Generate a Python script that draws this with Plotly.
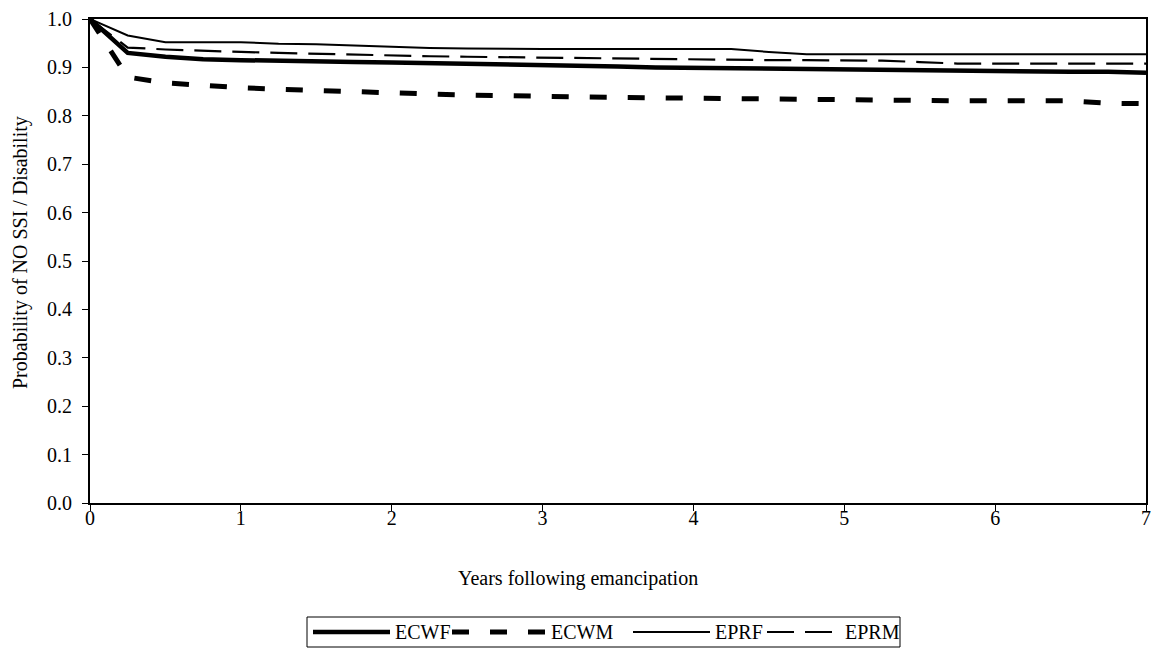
import plotly.graph_objects as go

years = [0, 0.25, 0.5, 0.75, 1, 1.25, 1.5, 1.75, 2, 2.25, 2.5, 2.75, 3, 3.25, 3.5,
         3.75, 4, 4.25, 4.5, 4.75, 5, 5.25, 5.5, 5.75, 6, 6.25, 6.5, 6.75, 7]

ecwf = [1.0, 0.930, 0.922, 0.917, 0.915, 0.913, 0.913, 0.911, 0.910, 0.909, 0.907, 0.905,
        0.904, 0.903, 0.902, 0.900, 0.899, 0.899, 0.898, 0.896, 0.895, 0.894, 0.894, 0.893,
        0.892, 0.891, 0.891, 0.891, 0.889]
ecwm = [1.0, 0.880, 0.868, 0.862, 0.858, 0.855, 0.852, 0.849, 0.847, 0.845, 0.843, 0.841,
        0.840, 0.839, 0.838, 0.837, 0.836, 0.835, 0.834, 0.834, 0.833, 0.832, 0.832, 0.831,
        0.831, 0.831, 0.831, 0.826, 0.825]
eprf = [1.0, 0.966, 0.952, 0.952, 0.952, 0.949, 0.948, 0.945, 0.942, 0.940, 0.939, 0.938,
        0.938, 0.938, 0.938, 0.938, 0.938, 0.938, 0.932, 0.927, 0.927, 0.927, 0.927, 0.927,
        0.927, 0.927, 0.927, 0.927, 0.927]
eprm = [1.0, 0.941, 0.937, 0.934, 0.932, 0.930, 0.928, 0.926, 0.924, 0.923, 0.922, 0.921,
        0.920, 0.919, 0.918, 0.917, 0.916, 0.916, 0.915, 0.915, 0.914, 0.914, 0.911, 0.908,
        0.908, 0.908, 0.908, 0.908, 0.908]

series_names = ["ECWF", "ECWM", "EPRF", "EPRM"]
series_values = [ecwf, ecwm, eprf, eprm]
styles = [
    dict(width=4.5, dash="solid"),
    dict(width=5, dash="17px,21px"),
    dict(width=2, dash="solid"),
    dict(width=2.2, dash="27px,11px"),
]

y_ticks = [0.0, 0.1, 0.2, 0.3, 0.4, 0.5, 0.6, 0.7, 0.8, 0.9, 1.0]
x_ticks = [0, 1, 2, 3, 4, 5, 6, 7]

FONT = "Liberation Serif, Times New Roman, serif"
FS = 20
OFF = 8  # page body margin
W, H = 1159 - 2 * OFF, 656 - 2 * OFF
L, R, T, B = 90 - OFF, 1146 - OFF, 19 - OFF, 503 - OFF


def px_x(p):
    return (p - OFF - L) / (R - L)


def px_y(p):
    return (B - (p - OFF)) / (B - T)


fig = go.Figure()
for name, vals, st in zip(series_names, series_values, styles):
    fig.add_trace(go.Scatter(x=years, y=vals, mode="lines", name=name,
                             line=dict(color="black", **st), showlegend=False,
                             cliponaxis=False))

shapes = []
annotations = []
# legend box
shapes.append(dict(type="rect", xref="paper", yref="paper",
                   x0=px_x(307), x1=px_x(900), y0=px_y(647), y1=px_y(617),
                   line=dict(color="black", width=1), fillcolor="white"))
leg_y = 632
leg_items = [(313, 390, 393), (452, 545, 549), (633, 710, 713), (767, 840, 843)]
for (lx0, lx1, tx), name, st in zip(leg_items, series_names, styles):
    shapes.append(dict(type="line", xref="paper", yref="paper",
                       x0=px_x(lx0), x1=px_x(lx1), y0=px_y(leg_y), y1=px_y(leg_y),
                       line=dict(color="black", width=st["width"], dash=st["dash"])))
    annotations.append(dict(text=name, xref="paper", yref="paper", x=px_x(tx), y=px_y(leg_y),
                            xanchor="left", yanchor="middle", showarrow=False,
                            font=dict(family=FONT, size=FS, color="black")))

annotations.append(dict(text="Years following emancipation", xref="paper", yref="paper",
                        x=px_x(578), y=px_y(578), xanchor="center", yanchor="middle",
                        showarrow=False, font=dict(family=FONT, size=FS, color="black")))
annotations.append(dict(text="Probability of NO SSI / Disability", xref="paper", yref="paper",
                        x=px_x(20), y=px_y(253), xanchor="center", yanchor="middle",
                        textangle=-90, showarrow=False,
                        font=dict(family=FONT, size=FS, color="black")))

fig.update_layout(
    width=W, height=H,
    margin=dict(l=L, r=W - R, t=T, b=H - B, pad=0, autoexpand=False),
    paper_bgcolor="white", plot_bgcolor="white",
    font=dict(family=FONT, size=FS, color="black"),
    shapes=shapes, annotations=annotations,
    showlegend=False,
)
fig.update_xaxes(range=[0, 7], tickvals=x_ticks, ticktext=[str(v) for v in x_ticks],
                 showgrid=False, zeroline=False, showline=True, linecolor="black",
                 linewidth=2, mirror=True, ticks="outside", ticklen=6, tickcolor="black",
                 tickwidth=1, ticklabelstandoff=-10, automargin=False)
fig.update_yaxes(range=[0, 1.0], tickvals=y_ticks, ticktext=[f"{v:.1f}" for v in y_ticks],
                 showgrid=False, zeroline=False, showline=True, linecolor="black",
                 linewidth=2, mirror=True, ticks="outside", ticklen=6, tickcolor="black",
                 tickwidth=1, ticklabelstandoff=6, automargin=False)

fig.write_html("out.html")
